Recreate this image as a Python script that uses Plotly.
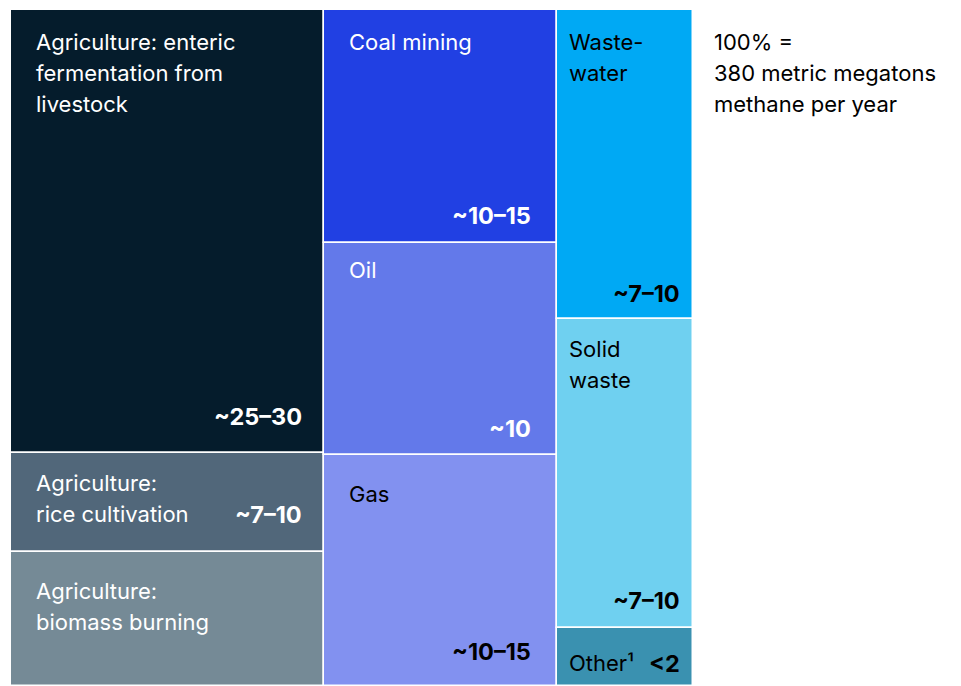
import plotly.graph_objects as go

# ---- data ----
categories = ["Enteric fermentation", "Rice cultivation", "Biomass burning",
              "Coal mining", "Oil", "Gas",
              "Wastewater", "Solid waste", "Other"]
labels = ["Agriculture: enteric<br>fermentation from<br>livestock",
          "Agriculture:<br>rice cultivation",
          "Agriculture:<br>biomass burning",
          "Coal mining", "Oil", "Gas",
          "Waste-<br>water", "Solid<br>waste", "Other¹"]
value_labels = ["~25–30", "~7–10", "~8–10",
                "~10–15", "~10", "~10–15",
                "~7–10", "~7–10", "<2"]
shares = [30.0, 6.7, 9.1, 11.8, 10.7, 11.7, 9.1, 9.1, 1.7]   # % of 380 Mt
column = [0, 0, 0, 1, 1, 1, 2, 2, 2]
note_text = "100% =<br>380 metric megatons<br>methane per year"

# ---- styles ----
colors = ["#051C2C", "#51677A", "#758A96",
          "#2140E3", "#6379EA", "#8291F0",
          "#00A9F4", "#6FD0F0", "#3A91B0"]
text_colors = ["white", "white", "white",
               "white", "white", "black",
               "black", "black", "black"]
pad_left = [23, 23, 10]
pad_right = [20, 24, 11]
label_top = [32, 30, 39, 32, 27, 39, 32, 30, 35]     # px from cell top to first line center
value_bottom = [36, 37, 26, 28, 26, 35, 26, 28, 23]  # px from cell bottom to value center
LINE = 31
FONT = "Inter"
FS = 22
FS_VAL = 23.5

# ---- layout computation from data ----
ncol = max(column) + 1
col_sum = [sum(s for s, c in zip(shares, column) if c == k) for k in range(ncol)]
col_x0 = []
acc = 0
for k in range(ncol):
    col_x0.append(acc)
    acc += col_sum[k]
total = acc

xs, ws, hs, bases = [], [], [], []
run = [0.0] * ncol
for s, c in zip(shares, column):
    h = s / col_sum[c]
    xs.append(col_x0[c] + col_sum[c] / 2)
    ws.append(col_sum[c])
    hs.append(h)
    bases.append(run[c])
    run[c] += h

fig = go.Figure(go.Bar(
    x=xs, y=hs, base=bases, width=ws,
    marker=dict(color=colors, line=dict(color="white", width=1.5)),
    hoverinfo="skip",
))

annotations = []
for i in range(len(shares)):
    c = column[i]
    x0 = col_x0[c]
    x1 = x0 + col_sum[c]
    top = bases[i]
    bottom = bases[i] + hs[i]
    for j, line in enumerate(labels[i].split("<br>")):
        annotations.append(dict(
            x=x0, y=top, xref="x", yref="y", text=line, showarrow=False,
            xanchor="left", yanchor="middle",
            xshift=pad_left[c], yshift=-(label_top[i] + j * LINE),
            font=dict(family=FONT, size=FS, color=text_colors[i])))
    annotations.append(dict(
        x=x1, y=bottom, xref="x", yref="y", text="<b>" + value_labels[i] + "</b>",
        showarrow=False, xanchor="right", yanchor="middle",
        xshift=-pad_right[c], yshift=value_bottom[i],
        font=dict(family=FONT, size=FS_VAL, color=text_colors[i])))

for j, line in enumerate(note_text.split("<br>")):
    annotations.append(dict(
        x=1, y=1, xref="paper", yref="paper", text=line, showarrow=False,
        xanchor="left", yanchor="middle", xshift=19, yshift=-(32 + j * LINE),
        font=dict(family=FONT, size=FS, color="black")))

# page body has an 8px default margin; figure placed so the plot sits at (11,10)
fig.update_layout(
    width=953, height=678,
    margin=dict(l=3, r=268, t=2, b=0),
    paper_bgcolor="white", plot_bgcolor="white",
    showlegend=False,
    xaxis=dict(range=[0, total], visible=False, fixedrange=True),
    yaxis=dict(range=[1, 0], visible=False, fixedrange=True),
    annotations=annotations,
    bargap=0,
)

fig.write_html("out.html")
